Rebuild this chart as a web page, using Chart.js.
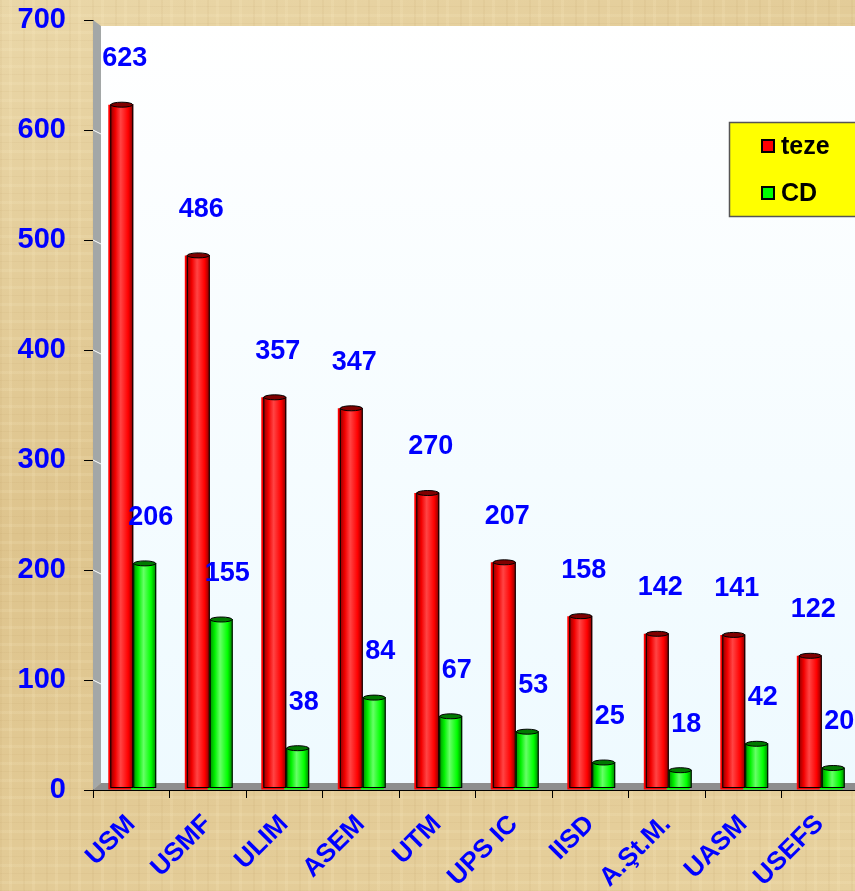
<!DOCTYPE html>
<html>
<head>
<meta charset="utf-8">
<script src="https://cdn.jsdelivr.net/npm/chart.js@4/dist/chart.umd.min.js"></script>
<style>
  html, body { margin: 0; padding: 0; overflow: hidden; }
  body {
    width: 855px; height: 891px;
    background-color: #e2cb96;
    background-image:
      repeating-linear-gradient(90deg, rgba(160,120,60,0.06) 0 2px, transparent 2px 9px, rgba(255,240,200,0.14) 9px 12px, transparent 12px 23px),
      repeating-linear-gradient(0deg, rgba(150,110,50,0.05) 0 1px, transparent 1px 7px, rgba(255,245,210,0.12) 7px 10px, transparent 10px 17px),
      linear-gradient(160deg, #ead7a8 0%, #dec48d 45%, #e7d19e 100%);
  }
  #wrap { position: absolute; left: 0; top: 0; width: 855px; height: 891px; overflow: hidden; }
</style>
</head>
<body>
<div id="wrap"><canvas id="chart" width="858" height="891"></canvas></div>
<script>
'use strict';

const categories = ['USM', 'USMF', 'ULIM', 'ASEM', 'UTM', 'UPS IC', 'IISD', 'A.Şt.M.', 'UASM', 'USEFS'];
const tezeValues = [623, 486, 357, 347, 270, 207, 158, 142, 141, 122];
const cdValues = [206, 155, 38, 84, 67, 53, 25, 18, 42, 20];
const yTicks = [0, 100, 200, 300, 400, 500, 600, 700];

const BLUE = '#0000ff';
const FONT = 'Arial, "Liberation Sans", sans-serif';
const DEPTH_X = 8, DEPTH_Y = 7;
const BAR_SHIFT = 2;

// shading for the cylinder look: [edge, mid, highlight, mid, edge]
const shades = [
    ['#8a0000', '#f20000', '#ff4444', '#ff0000', '#800000'],
    ['#008a00', '#00f000', '#66ff66', '#00ff00', '#007a00'],
];

const scene3d = {
    id: 'scene3d',
    beforeDatasetsDraw(chart) {
        const { ctx, chartArea: a } = chart;
        const x0 = a.left, y0 = a.top, x1 = a.right, y1 = a.bottom;
        ctx.save();
        // back wall
        const g = ctx.createLinearGradient(0, y0, 0, y1);
        g.addColorStop(0, '#ffffff');
        g.addColorStop(1, '#eefaff');
        ctx.fillStyle = g;
        ctx.fillRect(x0 + DEPTH_X, y0 + DEPTH_Y - 1, x1 - x0 - DEPTH_X, y1 - y0 - DEPTH_Y);
        // side wall
        ctx.fillStyle = '#a3a7a7';
        ctx.beginPath();
        ctx.moveTo(x0, y0);
        ctx.lineTo(x0 + DEPTH_X, y0 + DEPTH_Y - 1);
        ctx.lineTo(x0 + DEPTH_X, y1 - DEPTH_Y);
        ctx.lineTo(x0, y1);
        ctx.closePath();
        ctx.fill();
        // white grid hints on the wall
        const ys = chart.scales.y;
        ctx.strokeStyle = '#ffffff';
        ctx.lineWidth = 1;
        yTicks.slice(1, -1).forEach(v => {
            const py = ys.getPixelForValue(v);
            ctx.beginPath();
            ctx.moveTo(x0, py);
            ctx.lineTo(x0 + DEPTH_X, py + 4);
            ctx.stroke();
        });
        // floor
        ctx.fillStyle = '#8e8e8e';
        ctx.beginPath();
        ctx.moveTo(x0, y1);
        ctx.lineTo(x0 + DEPTH_X, y1 - DEPTH_Y);
        ctx.lineTo(x1, y1 - DEPTH_Y);
        ctx.lineTo(x1, y1);
        ctx.closePath();
        ctx.fill();
        ctx.restore();
    },
    afterDatasetsDraw(chart) {
        const { ctx } = chart;
        ctx.save();
        chart.data.datasets.forEach((ds, di) => {
            const meta = chart.getDatasetMeta(di);
            const sh = shades[di];
            meta.data.forEach((bar, i) => {
                const w = bar.width, cx = bar.x + BAR_SHIFT, left = cx - w / 2;
                const top = bar.y, bottom = bar.base - 2;
                const gr = ctx.createLinearGradient(left, 0, left + w, 0);
                gr.addColorStop(0, sh[0]);
                gr.addColorStop(0.22, sh[1]);
                gr.addColorStop(0.45, sh[2]);
                gr.addColorStop(0.78, sh[3]);
                gr.addColorStop(1, sh[4]);
                ctx.fillStyle = gr;
                ctx.fillRect(left, top, w, bottom - top);
                ctx.strokeStyle = '#000000';
                ctx.lineWidth = 1;
                ctx.strokeRect(left + 0.5, top, w - 1, bottom - top);
                // top cap
                ctx.beginPath();
                ctx.ellipse(cx, top, w / 2 - 0.5, 2.5, 0, 0, Math.PI * 2);
                ctx.fillStyle = sh[4];
                ctx.fill();
                ctx.stroke();
                // value label
                ctx.fillStyle = BLUE;
                ctx.font = 'bold 27px ' + FONT;
                ctx.textAlign = 'center';
                ctx.textBaseline = 'middle';
                ctx.fillText(String(ds.data[i]), cx + (di ? 6 : 3), top - 46);
            });
        });
        ctx.restore();
    },
    afterDraw(chart) {
        const { ctx } = chart;
        ctx.save();
        ctx.fillStyle = '#ffff00';
        ctx.fillRect(729, 122, 140, 94);
        ctx.strokeStyle = '#555555';
        ctx.lineWidth = 1.5;
        ctx.strokeRect(729.5, 122.5, 140, 94);
        const rows = [146, 193];
        chart.data.datasets.forEach((ds, di) => {
            const cy = rows[di];
            ctx.fillStyle = ds.backgroundColor;
            ctx.fillRect(762, cy - 6, 12, 12);
            ctx.strokeStyle = '#000000';
            ctx.lineWidth = 2;
            ctx.strokeRect(762, cy - 6, 12, 12);
            ctx.fillStyle = '#000000';
            ctx.font = 'bold 25px ' + FONT;
            ctx.textAlign = 'left';
            ctx.textBaseline = 'middle';
            ctx.fillText(ds.label, 781, cy + 1);
        });
        ctx.restore();
    }
};

new Chart(document.getElementById('chart'), {
    type: 'bar',
    data: {
        labels: categories,
        datasets: [{
            label: 'teze',
            data: tezeValues,
            backgroundColor: '#ff0000',
        }, {
            label: 'CD',
            data: cdValues,
            backgroundColor: '#00ff00',
        }]
    },
    options: {
        responsive: false,
        animation: false,
        layout: { padding: { top: 20, right: 0, left: 0, bottom: 0 } },
        categoryPercentage: 0.6,
        barPercentage: 1,
        scales: {
            x: {
                grid: { drawOnChartArea: false, color: '#000000', tickLength: 8, offset: true },
                border: { color: '#000000' },
                ticks: {
                    color: BLUE,
                    font: { family: FONT, size: 26, weight: 'bold' },
                    minRotation: 45,
                    maxRotation: 45,
                    padding: 11,
                },
                afterFit(scale) {
                    scale.height = 101;
                    scale.paddingLeft = 0;
                    scale.paddingRight = 0;
                }
            },
            y: {
                min: 0,
                max: 700,
                afterBuildTicks(scale) { scale.ticks = yTicks.map(v => ({ value: v })); },
                grid: { drawOnChartArea: false, color: '#000000', tickLength: 9 },
                border: { color: '#000000' },
                ticks: {
                    color: BLUE,
                    font: { family: FONT, size: 29, weight: 'bold' },
                    padding: 18,
                },
                afterFit(scale) {
                    scale.width = 93;
                    scale.paddingTop = 0;
                    scale.paddingBottom = 0;
                }
            }
        },
        plugins: {
            legend: { display: false },
            tooltip: { enabled: false }
        }
    },
    plugins: [scene3d]
});
</script>
</body>
</html>
